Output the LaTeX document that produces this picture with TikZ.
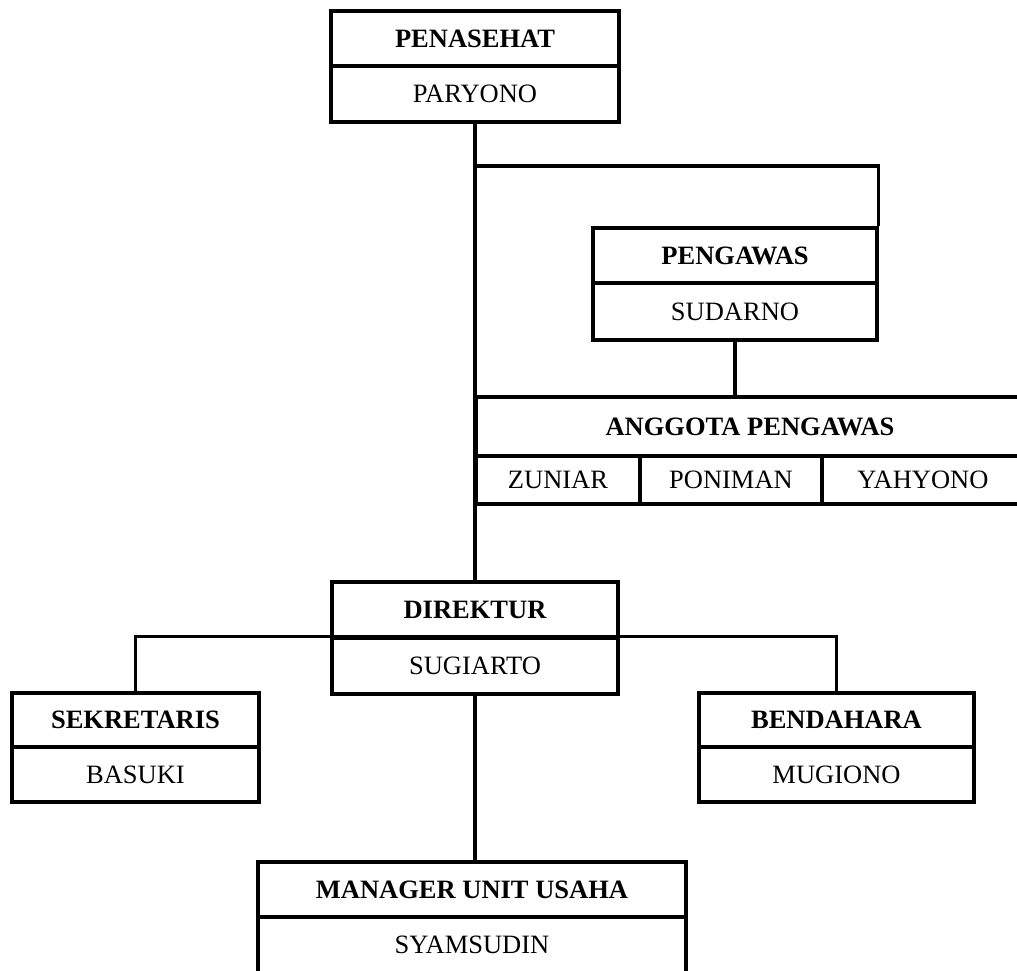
\documentclass[tikz,border=0pt]{standalone}
\usepackage{fontspec}
\setmainfont{Liberation Serif}

\tikzset{
	jabatan/.style={draw, line width=3.2pt, inner sep=0pt, font=\fontsize{26.5}{30}\selectfont\bfseries},
	nama/.style={draw, line width=3.2pt, inner sep=0pt, font=\fontsize{26.5}{30}\selectfont},
	garis/.style={line width=3.2pt}
}

\begin{document}
\begin{tikzpicture}[x=1pt, y=-1pt]
				\useasboundingbox (0,0) rectangle (1017,970);
				\clip (0,0) rectangle (1017,970);
				
				%penasehat
				\node[jabatan, minimum width=288, minimum height=55] (penasehat) at (475, 38.5){PENASEHAT};
				\node[nama, minimum width=288, minimum height=56] (paryono) at (475, 94){PARYONO};
				
				%pengawas
				\node[jabatan, minimum width=284, minimum height=55] (pengawas) at (735, 255.5){PENGAWAS};
				\node[nama, minimum width=284, minimum height=57] (sudarno) at (735, 311.5){SUDARNO};
				
				%anggota pengawas
				\node[jabatan, minimum width=548, minimum height=59] (anggota) at (750, 426.5){ANGGOTA PENGAWAS};
				\node[nama, minimum width=164, minimum height=48] (zuniar) at (558, 480){ZUNIAR};
				\node[nama, minimum width=182, minimum height=48] (poniman) at (731, 480){PONIMAN};
				\node[nama, minimum width=202, minimum height=48] (yahyono) at (923, 480){YAHYONO};
				
				%direktur
				\node[jabatan, minimum width=286, minimum height=56] (direktur) at (475, 610){DIREKTUR};
				\node[nama, minimum width=286, minimum height=56] (sugiarto) at (475, 666){SUGIARTO};
				
				%sekretaris dan bendahara
				\node[jabatan, minimum width=247, minimum height=54] (sekretaris) at (135.5, 720){SEKRETARIS};
				\node[nama, minimum width=247, minimum height=55] (basuki) at (135.5, 774.5){BASUKI};
				\node[jabatan, minimum width=275, minimum height=54] (bendahara) at (836.5, 720){BENDAHARA};
				\node[nama, minimum width=275, minimum height=55] (mugiono) at (836.5, 774.5){MUGIONO};
				
				%manager
				\node[jabatan, minimum width=428, minimum height=55] (manager) at (472, 889.5){MANAGER UNIT USAHA};
				\node[nama, minimum width=428, minimum height=56] (syamsudin) at (472, 945){SYAMSUDIN};
				
				%garis
				\draw[garis] (paryono.south) -- (direktur.north);
				\draw[garis] (paryono.south |- 0, 166) -| (pengawas.north east);
				\draw[garis] (sudarno.south) -- (sudarno.south |- anggota.north);
				\draw[garis] (sekretaris.north) |- (bendahara.north |- sugiarto.north) -- (bendahara.north);
				\draw[garis] (sugiarto.south) -- (sugiarto.south |- manager.north);
			\end{tikzpicture}
\end{document}
